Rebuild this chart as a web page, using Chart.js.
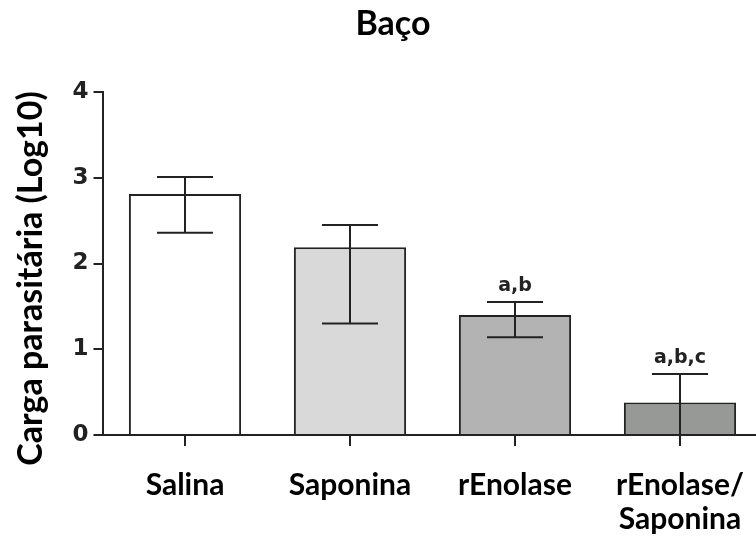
<!DOCTYPE html>
<html>
<head>
<meta charset="utf-8">
<script src="https://cdn.jsdelivr.net/npm/chart.js@4/dist/chart.umd.min.js"></script>
<style>
  html, body { margin: 0; padding: 0; background: #fff; overflow: hidden; }
  #wrap { width: 756px; height: 545px; overflow: hidden; }
  #box { width: 770px; height: 545px; }
</style>
</head>
<body>
<div id="wrap"><div id="box"><canvas id="chart"></canvas></div></div>
<script>
let groups = ["Salina", "Saponina", "rEnolase", ["rEnolase/", "Saponina"]];
let means = [2.81, 2.19, 1.40, 0.38];
let errHigh = [3.01, 2.45, 1.55, 0.71];
let errLow = [2.36, 1.30, 1.14, 0.0];
let letters = ["", "", "a,b", "a,b,c"];
let yTicks = [0, 1, 2, 3, 4];

let fills = ["#ffffff", "#d9d9d9", "#b3b3b3", "#979997"];
let ink = "#222222";

// error bars + significance letters + rotated y title
let extras = {
  id: "extras",
  afterDatasetsDraw(chart) {
    let ctx = chart.ctx;
    let y = chart.scales.y;
    let bars = chart.getDatasetMeta(0).data;
    ctx.save();
    ctx.strokeStyle = ink;
    ctx.lineWidth = 2;
    bars.forEach((bar, i) => {
      let x = bar.x;
      let yh = y.getPixelForValue(errHigh[i]);
      let yl = y.getPixelForValue(errLow[i]);
      ctx.beginPath();
      ctx.moveTo(x, yh);
      ctx.lineTo(x, yl);
      ctx.moveTo(x - 28, yh);
      ctx.lineTo(x + 28, yh);
      ctx.moveTo(x - 28, yl);
      ctx.lineTo(x + 28, yl);
      ctx.stroke();
      if (letters[i]) {
        ctx.fillStyle = ink;
        ctx.font = "bold 19px 'DejaVu Sans'";
        ctx.textAlign = "center";
        ctx.textBaseline = "alphabetic";
        ctx.fillText(letters[i], x, yh - 11);
      }
    });
    let a = chart.chartArea;
    ctx.translate(31, (a.top + a.bottom) / 2 + 15);
    ctx.rotate(-Math.PI / 2);
    ctx.fillStyle = "#000";
    ctx.font = "bold 34px Lato";
    ctx.textAlign = "center";
    ctx.textBaseline = "middle";
    ctx.fillText("Carga parasitária (Log10)", 0, 0);
    ctx.restore();
  },
};

let ctx = document.getElementById("chart").getContext("2d");
let myChart = new Chart(ctx, {
  type: "bar",
  data: {
    labels: groups,
    datasets: [
      {
        data: means,
        backgroundColor: fills,
        borderColor: ink,
        borderWidth: 2,
        barPercentage: 0.68,
        categoryPercentage: 1,
      },
    ],
  },
  options: {
    responsive: true,
    maintainAspectRatio: false,
    animation: false,
    layout: { padding: { left: 23.5, right: 7.5, top: 0, bottom: 0 } },
    plugins: {
      legend: { display: false },
      tooltip: { enabled: false },
      title: {
        display: true,
        text: "Baço",
        color: "#000",
        font: { family: "Lato", size: 34, weight: "bold", lineHeight: 1.2 },
        padding: { top: 4, bottom: 47.2 },
      },
    },
    scales: {
      x: {
        afterFit(s) { s.height = 110; },
        grid: {
          offset: false,
          drawOnChartArea: false,
          drawTicks: true,
          tickLength: 11,
          color: ink,
          lineWidth: 2,
        },
        border: { display: true, color: ink, width: 2 },
        ticks: {
          color: "#000",
          padding: 22,
          font: { family: "Lato", size: 30, weight: "bold", lineHeight: 1.13 },
        },
      },
      y: {
        min: 0,
        max: 4,
        afterFit(s) { s.width = 79; },
        afterBuildTicks(s) { s.ticks = yTicks.map((v) => ({ value: v })); },
        grid: {
          drawOnChartArea: false,
          drawTicks: true,
          tickLength: 9,
          color: ink,
          lineWidth: 2,
        },
        border: { display: true, color: ink, width: 2 },
        ticks: {
          color: ink,
          padding: 5,
          font: { family: "DejaVu Sans", size: 23, weight: "bold" },
        },
      },
    },
  },
  plugins: [extras],
});
</script>
</body>
</html>
